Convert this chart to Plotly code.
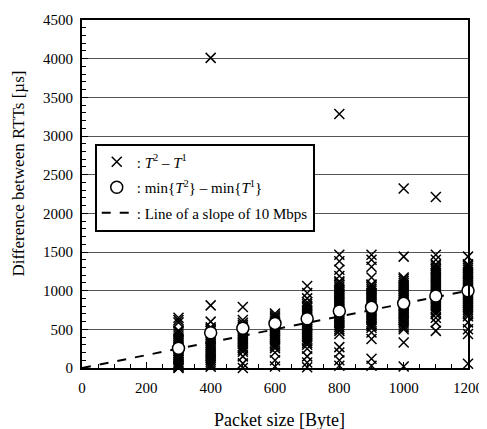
import plotly.graph_objects as go

# Packet sizes [Byte]
packet_sizes = [300, 400, 500, 600, 700, 800, 900, 1000, 1100, 1200]

# T^2 - T^1 samples [us] for each packet size
rtt_300 = [0, 10, 25, 40, 60, 80, 100, 120, 145, 170, 195, 220, 245, 270, 295, 320,
           345, 370, 395, 420, 445, 470, 485, 590, 620, 650]
rtt_400 = [15, 35, 55, 80, 105, 130, 155, 180, 205, 230, 255, 280, 305, 330, 355, 380,
           405, 430, 455, 480, 505, 525, 600, 810, 4010]
rtt_500 = [0, 60, 150, 210, 235, 260, 285, 310, 335, 360, 385, 410, 435, 460, 485, 510,
           535, 560, 585, 620, 790]
rtt_600 = [20, 100, 200, 255, 280, 305, 330, 355, 380, 405, 430, 455, 480, 505, 530, 555,
           580, 605, 630, 655, 680, 705]
rtt_700 = [10, 70, 150, 250, 300, 325, 350, 375, 400, 425, 450, 475, 500, 525, 550, 575,
           600, 625, 650, 675, 700, 725, 750, 775, 800, 825, 850, 900, 970, 1060]
rtt_800 = [30, 100, 200, 270, 440, 480, 505, 530, 555, 580, 605, 630, 655, 680, 705, 730,
           755, 780, 805, 830, 855, 880, 905, 930, 955, 980, 1005, 1030, 1055, 1080, 1105,
           1120, 1190, 1270, 1380, 1465, 3285]
rtt_900 = [30, 120, 375, 460, 520, 545, 570, 595, 620, 645, 670, 695, 720, 745, 770, 795,
           820, 845, 870, 895, 920, 945, 970, 995, 1020, 1045, 1070, 1080, 1170, 1310,
           1400, 1465]
rtt_1000 = [20, 330, 500, 525, 550, 575, 600, 625, 650, 675, 700, 725, 750, 775, 800, 825,
            850, 875, 900, 925, 950, 975, 1000, 1025, 1050, 1075, 1100, 1125, 1150, 1170,
            1440, 2320]
rtt_1100 = [480, 590, 650, 700, 725, 750, 775, 800, 825, 850, 875, 900, 925, 950, 975, 1000,
            1025, 1050, 1075, 1100, 1125, 1150, 1175, 1200, 1225, 1250, 1275, 1300, 1325,
            1340, 1400, 1465, 2210]
rtt_1200 = [55, 440, 500, 590, 670, 695, 720, 745, 770, 795, 820, 845, 870, 895, 920, 945,
            970, 995, 1020, 1045, 1070, 1095, 1120, 1145, 1170, 1195, 1220, 1245, 1270,
            1295, 1320, 1340, 1440]

# min{T^2} - min{T^1} [us]
min_diff = [255, 456, 513, 577, 637, 736, 784, 836, 930, 999]

# Line of a slope of 10 Mbps
line_x = [0, 1200]
line_y = [0, 1000]

# Axis ticks
x_ticks = [0, 200, 400, 600, 800, 1000, 1200]
y_ticks = [0, 500, 1000, 1500, 2000, 2500, 3000, 3500, 4000, 4500]

samples = [rtt_300, rtt_400, rtt_500, rtt_600, rtt_700, rtt_800, rtt_900,
           rtt_1000, rtt_1100, rtt_1200]
sx, sy = [], []
for size, vals in zip(packet_sizes, samples):
    for v in vals:
        sx.append(size)
        sy.append(v)

FONT = "Liberation Serif, Times New Roman, serif"

fig = go.Figure()
fig.add_trace(go.Scatter(
    x=sx, y=sy, mode="markers", cliponaxis=False, legendgroup="a",
    name=": <i>T</i><sup>2</sup> \u2013 <i>T</i><sup>1</sup>",
    marker=dict(symbol="x-thin", size=10, color="black",
                line=dict(color="black", width=1.5)),
))
fig.add_trace(go.Scatter(
    x=line_x, y=line_y, mode="lines", showlegend=False,
    line=dict(color="black", width=2, dash="dash"),
))
fig.add_trace(go.Scatter(
    x=packet_sizes, y=min_diff, mode="markers", cliponaxis=False, legendgroup="b",
    name=": min{<i>T</i><sup>2</sup>} \u2013 min{<i>T</i><sup>1</sup>}",
    marker=dict(symbol="circle", size=12, color="white",
                line=dict(color="black", width=1.5)),
))
fig.add_trace(go.Scatter(
    x=[None], y=[None], mode="lines", legendgroup="c",
    name=": Line of a slope of 10 Mbps",
    line=dict(color="black", width=2, dash="dash"),
))

fig.update_layout(
    width=479, height=421,
    margin=dict(l=74, r=16, t=4, b=61),
    paper_bgcolor="white", plot_bgcolor="white",
    font=dict(family=FONT, size=15, color="black"),
    showlegend=True,
    legend=dict(
        x=0.033, y=0.645, xanchor="left", yanchor="top",
        bgcolor="white", bordercolor="black", borderwidth=2,
        font=dict(family=FONT, size=15, color="black"),
        itemwidth=30, tracegroupgap=3,
    ),
    xaxis=dict(
        range=[0, 1200], tickvals=x_ticks, ticktext=[str(v) for v in x_ticks],
        showgrid=False, zeroline=False,
        showline=True, linecolor="black", linewidth=2, mirror=True,
        ticks="inside", ticklen=6, tickcolor="black",
        minor=dict(dtick=50, ticks="inside", ticklen=4, tickcolor="black", showgrid=False),
        tickfont=dict(family=FONT, size=15), ticklabelstandoff=5,
        ticklabeloverflow="allow",
    ),
    yaxis=dict(
        range=[0, 4500], tickvals=y_ticks, ticktext=[str(v) for v in y_ticks],
        showgrid=True, gridcolor="#555555", gridwidth=1, zeroline=False,
        showline=True, linecolor="black", linewidth=2, mirror=True,
        ticks="inside", ticklen=6, tickcolor="black",
        minor=dict(dtick=100, ticks="inside", ticklen=4, tickcolor="black", showgrid=False),
        tickfont=dict(family=FONT, size=15), ticklabelstandoff=4,
        ticklabeloverflow="allow",
    ),
    annotations=[
        dict(text="Packet size [Byte]", xref="paper", yref="paper",
             x=0.5116, y=-0.15, xanchor="center", yanchor="middle",
             showarrow=False, font=dict(family=FONT, size=18, color="black")),
        dict(text="Difference between RTTs [\u00b5s]", xref="paper", yref="paper",
             x=-0.165, y=0.5596, xanchor="center", yanchor="middle", textangle=-90,
             showarrow=False, font=dict(family=FONT, size=17, color="black")),
    ],
)

fig.write_html("out.html")
